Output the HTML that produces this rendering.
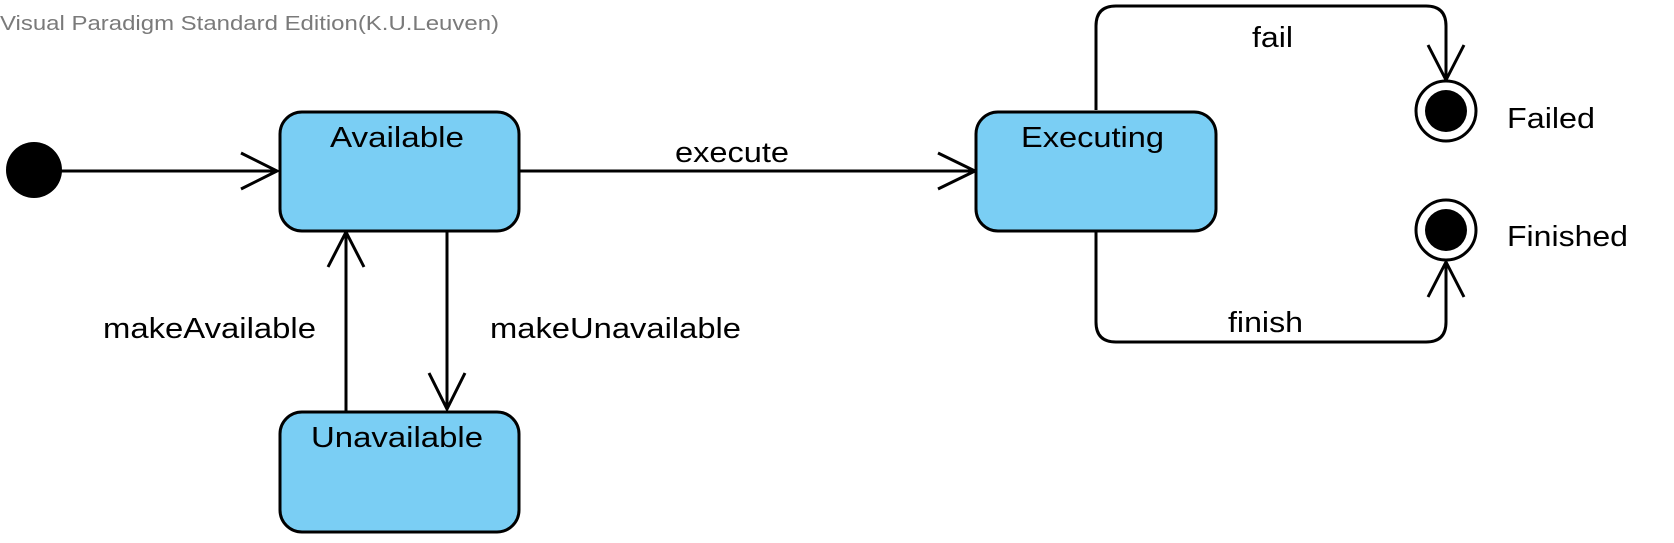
<!DOCTYPE html>
<html><head><meta charset="utf-8"><style>html,body{margin:0;padding:0;background:#fff;}svg{display:block;}</style></head>
<body>
<svg width="1674" height="543" viewBox="0 0 1674 543" xmlns="http://www.w3.org/2000/svg" font-family="Liberation Sans, Arial, sans-serif">
<text x="0" y="30" font-size="20.5" fill="#7a7a7a" textLength="499" lengthAdjust="spacingAndGlyphs">Visual Paradigm Standard Edition(K.U.Leuven)</text>
<g stroke="#000" stroke-width="3" fill="none">
<line x1="60" y1="171" x2="277" y2="171"/>
<polyline points="241,153 277,171 241,189"/>
<line x1="519" y1="171" x2="975" y2="171"/>
<polyline points="938,153 975,171 938,189"/>
<line x1="346" y1="411" x2="346" y2="232"/>
<polyline points="328,267 346,232 364,267"/>
<line x1="447" y1="231" x2="447" y2="409"/>
<polyline points="429,373 447,409 465,373"/>
<path d="M1096,110 V26 Q1096,6 1116,6 H1426 Q1446,6 1446,26 V80"/>
<polyline points="1428,45 1446,80 1464,45"/>
<path d="M1096,231 V322 Q1096,342 1116,342 H1426 Q1446,342 1446,322 V262"/>
<polyline points="1428,297 1446,262 1464,297"/>
</g>
<circle cx="34" cy="170" r="28" fill="#000"/>
<g fill="#7acef4" stroke="#000" stroke-width="3">
<rect x="280" y="112" width="239" height="119" rx="22"/>
<rect x="280" y="412" width="239" height="120" rx="22"/>
<rect x="976" y="112" width="240" height="119" rx="22"/>
</g>
<circle cx="1446" cy="111" r="30" fill="#fff" stroke="#000" stroke-width="3"/>
<circle cx="1446" cy="111" r="21" fill="#000"/>
<circle cx="1446" cy="230" r="30" fill="#fff" stroke="#000" stroke-width="3"/>
<circle cx="1446" cy="230" r="21" fill="#000"/>
<g font-size="29" fill="#000">
<text x="330" y="147" textLength="134" lengthAdjust="spacingAndGlyphs">Available</text>
<text x="311" y="447" textLength="172" lengthAdjust="spacingAndGlyphs">Unavailable</text>
<text x="1021" y="147" textLength="143" lengthAdjust="spacingAndGlyphs">Executing</text>
<text x="675" y="162" textLength="114" lengthAdjust="spacingAndGlyphs">execute</text>
<text x="103" y="338" textLength="213" lengthAdjust="spacingAndGlyphs">makeAvailable</text>
<text x="490" y="338" textLength="251" lengthAdjust="spacingAndGlyphs">makeUnavailable</text>
<text x="1252" y="47" textLength="41" lengthAdjust="spacingAndGlyphs">fail</text>
<text x="1228" y="332" textLength="75" lengthAdjust="spacingAndGlyphs">finish</text>
<text x="1507" y="128" textLength="88" lengthAdjust="spacingAndGlyphs">Failed</text>
<text x="1507" y="246" textLength="121" lengthAdjust="spacingAndGlyphs">Finished</text>
</g>
</svg>
</body></html>
